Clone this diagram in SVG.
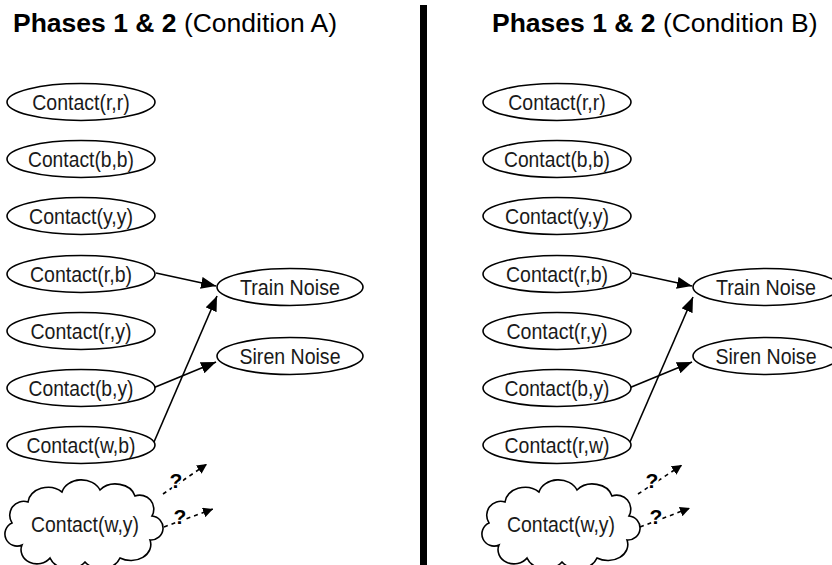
<svg xmlns="http://www.w3.org/2000/svg" width="832" height="565" viewBox="0 0 832 565">
<style>
.n ellipse, .n use{fill:#fff;stroke:#000;stroke-width:1.6}
.n text{font-family:"Liberation Sans",Arial,sans-serif;font-size:21.5px;fill:#1a1a1a;text-anchor:middle}
.title{font-family:"Liberation Sans",Arial,sans-serif;font-size:26.5px;fill:#000}
.e{stroke:#000;stroke-width:1.6;fill:none;marker-end:url(#ah)}
.d{stroke:#000;stroke-width:1.6;fill:none;stroke-dasharray:4 4;marker-end:url(#ahs)}
.q{font-family:"Liberation Sans",Arial,sans-serif;font-size:21px;font-weight:bold;fill:#000;text-anchor:middle;stroke:#fff;stroke-width:4;paint-order:stroke}
</style>
<defs>
<marker id="ah" markerUnits="userSpaceOnUse" markerWidth="16" markerHeight="12" refX="15" refY="6" orient="auto"><path d="M0,0 L15,6 L0,12 Z" fill="#000"/></marker>
<marker id="ahs" markerUnits="userSpaceOnUse" markerWidth="11" markerHeight="10" refX="10" refY="5" orient="auto"><path d="M0,0 L10,5 L0,10 Z" fill="#000"/></marker>
<path id="cloud" d="M12 523 A14 14 0 0 1 28 502 A20 16 0 0 1 62 492 A20 16 0 0 1 100 490 A20 16 0 0 1 135 496 A14 14 0 0 1 152 516 A12 12 0 0 1 150 540 A20 16 0 0 1 120 558 A20 16 0 0 1 85 562 A20 16 0 0 1 50 558 A16 14 0 0 1 22 545 A12 12 0 0 1 12 523 Z"/>
</defs>
<rect width="832" height="565" fill="#fff"/>
<rect x="420" y="5" width="7" height="560" fill="#000"/>
<text class="title" x="13" y="32"><tspan font-weight="bold">Phases 1 &amp; 2</tspan> (Condition A)</text>
<text class="title" x="492" y="32"><tspan font-weight="bold">Phases 1 &amp; 2</tspan> (Condition B)</text>

<g id="edges">
<line class="e" x1="156" y1="273" x2="216" y2="286"/>
<line class="e" x1="153" y1="388" x2="216" y2="362"/>
<line class="e" x1="154" y1="442" x2="217" y2="296"/>
<line class="d" x1="163" y1="494" x2="207" y2="464"/>
<line class="d" x1="164" y1="527" x2="213" y2="509"/>
<text class="q" x="176" y="488">?</text>
<text class="q" x="180" y="524">?</text>
<line class="e" x1="632" y1="273" x2="692" y2="286"/>
<line class="e" x1="629" y1="388" x2="692" y2="362"/>
<line class="e" x1="630" y1="442" x2="693" y2="297"/>
<line class="d" x1="638" y1="494" x2="682" y2="465"/>
<line class="d" x1="640" y1="527" x2="690" y2="508"/>
<text class="q" x="652" y="488">?</text>
<text class="q" x="656" y="524">?</text>
</g>

<g id="A_rr" class="n"><ellipse cx="81" cy="102" rx="74" ry="18.5"/><text x="81" y="110" textLength="97.6" lengthAdjust="spacingAndGlyphs">Contact(r,r)</text></g>
<g id="A_bb" class="n"><ellipse cx="81" cy="159" rx="74" ry="18.5"/><text x="81" y="167" textLength="106" lengthAdjust="spacingAndGlyphs">Contact(b,b)</text></g>
<g id="A_yy" class="n"><ellipse cx="81" cy="216" rx="74" ry="18.5"/><text x="81" y="224" textLength="104" lengthAdjust="spacingAndGlyphs">Contact(y,y)</text></g>
<g id="A_rb" class="n"><ellipse cx="81" cy="274" rx="74" ry="18.5"/><text x="81" y="282" textLength="102" lengthAdjust="spacingAndGlyphs">Contact(r,b)</text></g>
<g id="A_ry" class="n"><ellipse cx="81" cy="331" rx="74" ry="18.5"/><text x="81" y="339" textLength="101" lengthAdjust="spacingAndGlyphs">Contact(r,y)</text></g>
<g id="A_by" class="n"><ellipse cx="81" cy="388" rx="74" ry="18.5"/><text x="81" y="396" textLength="105" lengthAdjust="spacingAndGlyphs">Contact(b,y)</text></g>
<g id="A_wb" class="n"><ellipse cx="81" cy="445" rx="74" ry="18.5"/><text x="81" y="453" textLength="109" lengthAdjust="spacingAndGlyphs">Contact(w,b)</text></g>
<g id="A_wy" class="n"><use href="#cloud"/><text x="85" y="532" textLength="108" lengthAdjust="spacingAndGlyphs">Contact(w,y)</text></g>
<g id="A_train" class="n"><ellipse cx="290" cy="287" rx="73" ry="18.5"/><text x="290" y="295" textLength="100" lengthAdjust="spacingAndGlyphs">Train Noise</text></g>
<g id="A_siren" class="n"><ellipse cx="290" cy="356" rx="73" ry="18.5"/><text x="290" y="364" textLength="101" lengthAdjust="spacingAndGlyphs">Siren Noise</text></g>

<g id="B_rr" class="n"><ellipse cx="557" cy="102" rx="74" ry="18.5"/><text x="557" y="110" textLength="97.6" lengthAdjust="spacingAndGlyphs">Contact(r,r)</text></g>
<g id="B_bb" class="n"><ellipse cx="557" cy="159" rx="74" ry="18.5"/><text x="557" y="167" textLength="106" lengthAdjust="spacingAndGlyphs">Contact(b,b)</text></g>
<g id="B_yy" class="n"><ellipse cx="557" cy="216" rx="74" ry="18.5"/><text x="557" y="224" textLength="104" lengthAdjust="spacingAndGlyphs">Contact(y,y)</text></g>
<g id="B_rb" class="n"><ellipse cx="557" cy="274" rx="74" ry="18.5"/><text x="557" y="282" textLength="102" lengthAdjust="spacingAndGlyphs">Contact(r,b)</text></g>
<g id="B_ry" class="n"><ellipse cx="557" cy="331" rx="74" ry="18.5"/><text x="557" y="339" textLength="101" lengthAdjust="spacingAndGlyphs">Contact(r,y)</text></g>
<g id="B_by" class="n"><ellipse cx="557" cy="388" rx="74" ry="18.5"/><text x="557" y="396" textLength="105" lengthAdjust="spacingAndGlyphs">Contact(b,y)</text></g>
<g id="B_rw" class="n"><ellipse cx="557" cy="445" rx="74" ry="18.5"/><text x="557" y="453" textLength="105" lengthAdjust="spacingAndGlyphs">Contact(r,w)</text></g>
<g id="B_wy" class="n"><use href="#cloud" transform="translate(477,0)"/><text x="561" y="532" textLength="108" lengthAdjust="spacingAndGlyphs">Contact(w,y)</text></g>
<g id="B_train" class="n"><ellipse cx="766" cy="287" rx="73" ry="18.5"/><text x="766" y="295" textLength="100" lengthAdjust="spacingAndGlyphs">Train Noise</text></g>
<g id="B_siren" class="n"><ellipse cx="766" cy="356" rx="73" ry="18.5"/><text x="766" y="364" textLength="101" lengthAdjust="spacingAndGlyphs">Siren Noise</text></g>
</svg>
